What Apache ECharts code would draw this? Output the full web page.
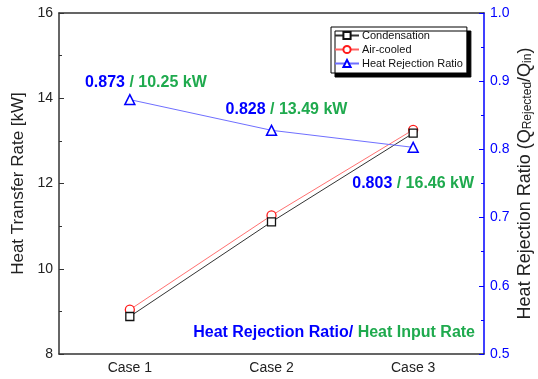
<!DOCTYPE html>
<html>
<head>
<meta charset="utf-8">
<script src="https://cdn.jsdelivr.net/npm/echarts@6/dist/echarts.min.js"></script>
<style>
  html, body { margin: 0; padding: 0; background: #fff; }
  #chart { width: 538px; height: 379px; }
</style>
</head>
<body>
<div id="chart"></div>
<script>
const categories = ['Case 1', 'Case 2', 'Case 3'];
const condensation = [8.88, 11.10, 13.18];
const airCooled = [9.04, 11.25, 13.26];
const rejectionRatio = [0.873, 0.828, 0.803];
const heatInput = ['10.25', '13.49', '16.46'];

const BLUE = '#0000ff';
const GREEN = '#1faa4e';
const FONT = '"Liberation Sans", Arial, sans-serif';

// where each ratio/input label sits relative to its point
const labelOffsets = [[16, 2], [15, -2], [0, 55]];

const chart = echarts.init(document.getElementById('chart'));

chart.setOption({
  backgroundColor: '#fff',
  textStyle: { fontFamily: FONT },
  animation: false,
  grid: { left: 59, right: 54, top: 13, bottom: 25, outerBoundsMode: 'none' },
  title: {
    text: '{b|Heat Rejection Ratio/ }{g|Heat Input Rate}',
    right: 58,
    bottom: 33,
    textStyle: {
      rich: {
        b: { color: BLUE, fontSize: 16, fontWeight: 'bold', fontFamily: FONT },
        g: { color: GREEN, fontSize: 16, fontWeight: 'bold', fontFamily: FONT }
      }
    }
  },
  legend: {
    orient: 'vertical',
    left: 331,
    top: 27,
    itemWidth: 24,
    itemHeight: 9,
    itemGap: 3,
    padding: [3, 4, 4, 3],
    backgroundColor: '#fff',
    borderColor: '#000',
    borderWidth: 1,
    borderRadius: 0,
    shadowColor: '#000',
    shadowBlur: 0,
    shadowOffsetX: 4,
    shadowOffsetY: 4,
    textStyle: { fontSize: 11, color: '#111', fontFamily: FONT, padding: [0, 0, 0, -2] },
    data: ['Condensation', 'Air-cooled', 'Heat Rejection Ratio']
  },
  xAxis: [
    {
      type: 'category',
      data: categories,
      position: 'bottom',
      axisLine: { lineStyle: { color: '#333', width: 1.5 } },
      axisTick: { inside: true, alignWithLabel: true, length: 5, lineStyle: { color: '#333' } },
      axisLabel: { color: '#222', fontSize: 14, margin: 7 }
    },
    {
      type: 'category',
      data: categories,
      position: 'top',
      axisLine: { lineStyle: { color: '#333', width: 1.5 } },
      axisTick: { inside: true, alignWithLabel: true, length: 5, lineStyle: { color: '#333' } },
      axisLabel: { show: false }
    }
  ],
  yAxis: [
    {
      type: 'value',
      min: 8,
      max: 16,
      interval: 2,
      position: 'left',
      name: 'Heat Transfer Rate [kW]',
      nameLocation: 'middle',
      nameGap: 31,
      nameTextStyle: { color: '#222', fontSize: 17 },
      axisLine: { show: true, lineStyle: { color: '#333', width: 1.5 } },
      axisTick: { show: true, inside: true, length: 5, lineStyle: { color: '#333' } },
      minorTick: { show: true, splitNumber: 2, length: 3, lineStyle: { color: '#333' } },
      axisLabel: { color: '#222', fontSize: 14, margin: 6 },
      splitLine: { show: false }
    },
    {
      type: 'value',
      min: 0.5,
      max: 1.0,
      interval: 0.1,
      position: 'right',
      name: '{m|Heat Rejection Ratio (Q}{s|Rejected}{m|/Q}{s|in}{m|)}',
      nameLocation: 'middle',
      nameRotate: 90,
      nameGap: 26,
      nameMoveOverlap: false,
      nameTextStyle: {
        rich: {
          m: { color: '#222', fontSize: 18, fontFamily: FONT, lineHeight: 24, verticalAlign: 'bottom' },
          s: { color: '#222', fontSize: 12, fontFamily: FONT, lineHeight: 15, verticalAlign: 'bottom' }
        }
      },
      axisLine: { show: true, lineStyle: { color: BLUE, width: 1.5 } },
      axisTick: { show: true, inside: true, length: 5, lineStyle: { color: BLUE } },
      minorTick: { show: true, splitNumber: 2, length: 3, lineStyle: { color: BLUE } },
      axisLabel: {
        color: BLUE, fontSize: 14, margin: 6,
        formatter: v => v.toFixed(1)
      },
      splitLine: { show: false }
    }
  ],
  series: [
    {
      name: 'Condensation',
      type: 'line',
      data: condensation,
      symbol: 'rect',
      symbolSize: 8,
      itemStyle: { color: '#fff', borderColor: '#111', borderWidth: 1.3 },
      lineStyle: { color: '#333', width: 1 },
      z: 3
    },
    {
      name: 'Air-cooled',
      type: 'line',
      data: airCooled,
      symbol: 'circle',
      symbolSize: 9,
      itemStyle: { color: '#fff', borderColor: '#ff1a1a', borderWidth: 1.3 },
      lineStyle: { color: '#ff6060', width: 0.9 },
      z: 2
    },
    {
      name: 'Heat Rejection Ratio',
      type: 'line',
      yAxisIndex: 1,
      data: rejectionRatio.map((v, i) => ({
        value: v,
        label: {
          show: true,
          position: 'top',
          offset: labelOffsets[i],
          formatter: '{b|' + v.toFixed(3) + '}{g| / ' + heatInput[i] + ' kW}',
          rich: {
            b: { color: BLUE, fontSize: 16, fontWeight: 'bold', fontFamily: FONT },
            g: { color: GREEN, fontSize: 16, fontWeight: 'bold', fontFamily: FONT }
          }
        }
      })),
      symbol: 'triangle',
      symbolSize: 10,
      itemStyle: { color: '#fff', borderColor: BLUE, borderWidth: 1.5 },
      lineStyle: { color: '#6f6fff', width: 1 },
      z: 4
    }
  ]
});
</script>
</body>
</html>
